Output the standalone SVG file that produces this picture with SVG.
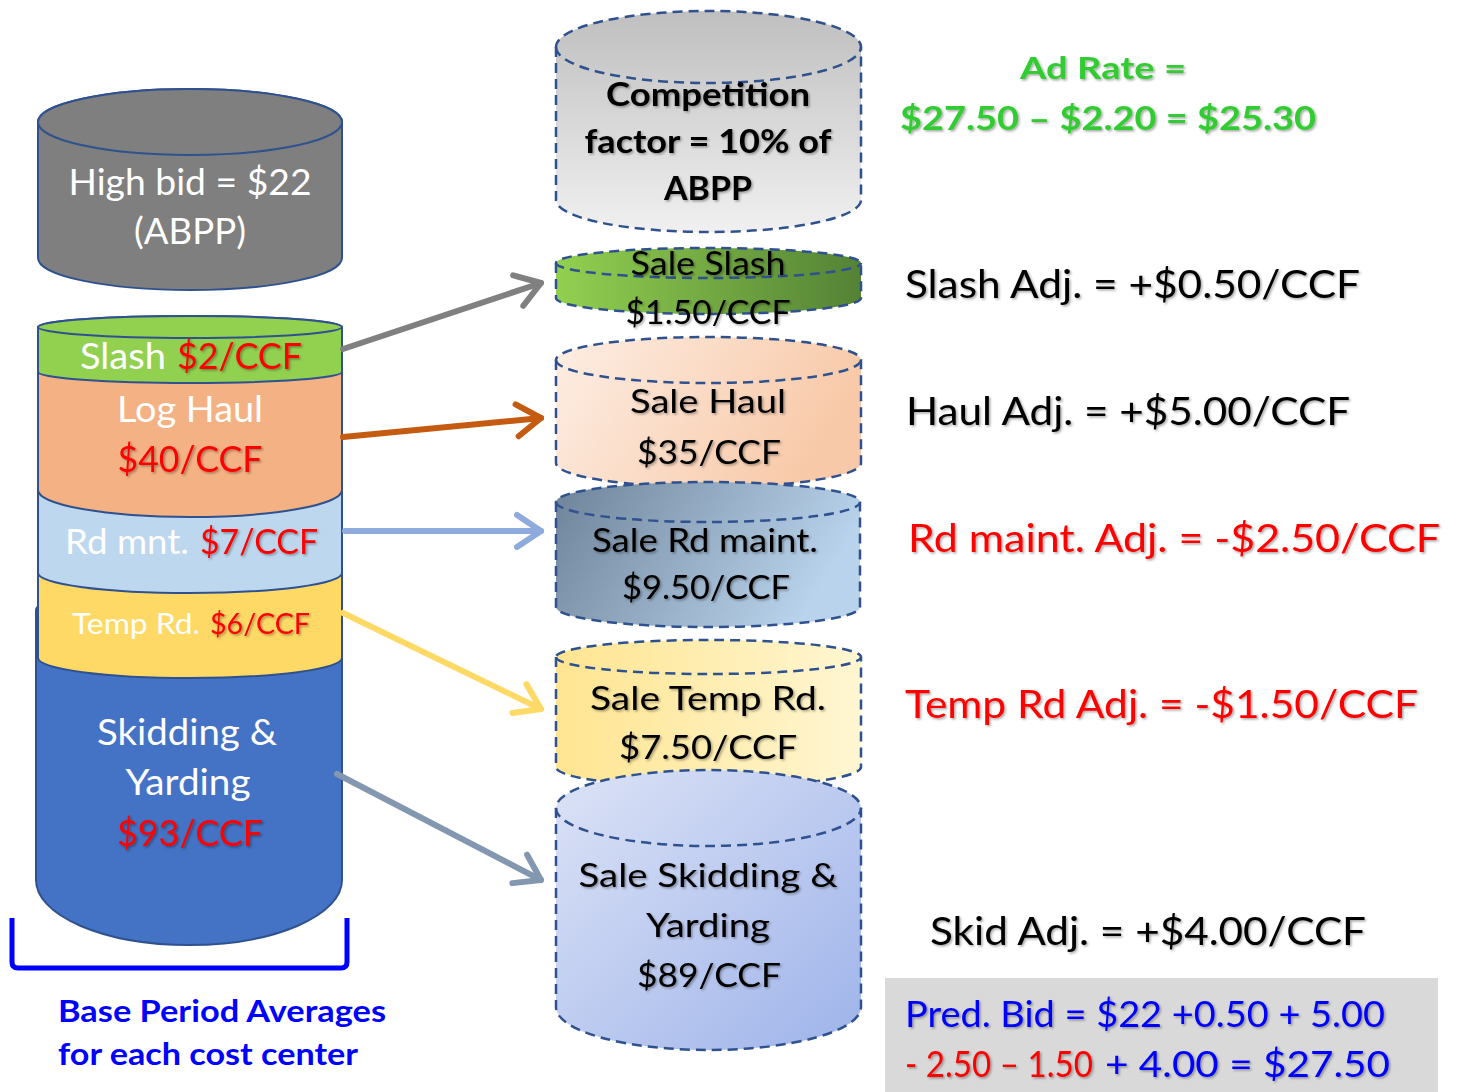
<svg xmlns="http://www.w3.org/2000/svg" width="1458" height="1092" viewBox="0 0 1458 1092">
<defs>
<style>
text{font-family:Lato,"Open Sans","Liberation Sans",sans-serif}
.l{stroke:#2f528f;stroke-width:2}
.m{stroke:#2f528f;stroke-width:2.5;stroke-dasharray:10 6;fill:none}
.w{fill:#fff}
.r{fill:#ff0000}
.k{fill:#000}
.sh{filter:url(#ts)}
.b{font-weight:bold}
.arr{fill:none;stroke-width:6;stroke-linecap:round}
</style>
<filter id="ts" x="-10%" y="-20%" width="120%" height="150%"><feDropShadow dx="1.5" dy="1.5" stdDeviation="1" flood-color="#000" flood-opacity="0.35"/></filter>
<linearGradient id="gComp" x1="0" y1="0" x2="0" y2="1"><stop offset="0" stop-color="#bfbfbf"/><stop offset="1" stop-color="#f0f0f0"/></linearGradient>
<linearGradient id="gSlash" x1="0" y1="0" x2="1" y2="0"><stop offset="0" stop-color="#92d050"/><stop offset="1" stop-color="#548235"/></linearGradient>
<linearGradient id="gHaul" x1="0" y1="0" x2="1" y2="0.3"><stop offset="0" stop-color="#fdeee4"/><stop offset="1" stop-color="#f8c9a8"/></linearGradient>
<linearGradient id="gRd" x1="0" y1="0" x2="1" y2="0.3"><stop offset="0" stop-color="#6e8399"/><stop offset="1" stop-color="#b9d3ec"/></linearGradient>
<linearGradient id="gTemp" x1="0" y1="0" x2="1" y2="0"><stop offset="0" stop-color="#ffe591"/><stop offset="1" stop-color="#fff6d2"/></linearGradient>
<linearGradient id="gSkid" x1="0" y1="0" x2="1" y2="1"><stop offset="0" stop-color="#dce3f6"/><stop offset="1" stop-color="#9eb3ea"/></linearGradient>
<marker id="mGray" markerUnits="userSpaceOnUse" markerWidth="60" markerHeight="60" refX="0" refY="0" orient="auto" overflow="visible"><path d="M-24,-16 L0,0 L-24,16" fill="none" stroke="#808080" stroke-width="6" stroke-linecap="round" stroke-linejoin="round"/></marker>
<marker id="mOrange" markerUnits="userSpaceOnUse" markerWidth="60" markerHeight="60" refX="0" refY="0" orient="auto" overflow="visible"><path d="M-24,-16 L0,0 L-24,16" fill="none" stroke="#c55a11" stroke-width="6" stroke-linecap="round" stroke-linejoin="round"/></marker>
<marker id="mBlue" markerUnits="userSpaceOnUse" markerWidth="60" markerHeight="60" refX="0" refY="0" orient="auto" overflow="visible"><path d="M-24,-16 L0,0 L-24,16" fill="none" stroke="#8faadc" stroke-width="6" stroke-linecap="round" stroke-linejoin="round"/></marker>
<marker id="mYellow" markerUnits="userSpaceOnUse" markerWidth="60" markerHeight="60" refX="0" refY="0" orient="auto" overflow="visible"><path d="M-24,-16 L0,0 L-24,16" fill="none" stroke="#ffd966" stroke-width="6" stroke-linecap="round" stroke-linejoin="round"/></marker>
<marker id="mSlate" markerUnits="userSpaceOnUse" markerWidth="60" markerHeight="60" refX="0" refY="0" orient="auto" overflow="visible"><path d="M-24,-16 L0,0 L-24,16" fill="none" stroke="#8497b0" stroke-width="6" stroke-linecap="round" stroke-linejoin="round"/></marker>
</defs>
<rect width="1458" height="1092" fill="#fff"/>

<!-- Left stack (drawn bottom-up) -->
<g id="skidding">
<path class="l" fill="#4472c4" d="M36,610 L36,880 A153,65 0 0 0 342,880 L342,610 A153,20 0 0 0 36,610 Z"/>
<text class="w" x="187" y="745" font-size="37" text-anchor="middle" textLength="180" lengthAdjust="spacingAndGlyphs">Skidding &amp;</text>
<text class="w" x="188" y="795" font-size="37" text-anchor="middle" textLength="125" lengthAdjust="spacingAndGlyphs">Yarding</text>
<text class="r sh" x="190" y="846" font-size="37" text-anchor="middle" textLength="146" lengthAdjust="spacingAndGlyphs">$93/CCF</text>
</g>
<g id="temp-rd">
<path class="l" fill="#ffd966" d="M38,565 L38,658 A152,20 0 0 0 342,658 L342,565 A152,20 0 0 0 38,565 Z"/>
<text x="72" y="634" font-size="28"><tspan class="w" x="72" textLength="128" lengthAdjust="spacingAndGlyphs">Temp Rd.</tspan><tspan class="r sh" x="210" textLength="100" lengthAdjust="spacingAndGlyphs">$6/CCF</tspan></text>
</g>
<g id="rd-mnt">
<path class="l" fill="#bdd7ee" d="M38,480 L38,573 A152,20 0 0 0 342,573 L342,480 A152,20 0 0 0 38,480 Z"/>
<text x="65" y="554" font-size="35"><tspan class="w" x="65" textLength="124" lengthAdjust="spacingAndGlyphs">Rd mnt.</tspan><tspan class="r sh" x="200" textLength="118" lengthAdjust="spacingAndGlyphs">$7/CCF</tspan></text>
</g>
<g id="log-haul">
<path class="l" fill="#f4b183" d="M38,372 L38,490 A152,27 0 0 0 342,490 L342,372 A152,11 0 0 0 38,372 Z"/>
<text class="w" x="190" y="422" font-size="36" text-anchor="middle" textLength="146" lengthAdjust="spacingAndGlyphs">Log Haul</text>
<text class="r sh" x="190" y="472" font-size="37" text-anchor="middle" textLength="145" lengthAdjust="spacingAndGlyphs">$40/CCF</text>
</g>
<g id="slash">
<path class="l" fill="#92d050" d="M38,327 L38,372 A152,11 0 0 0 342,372 L342,327 A152,11 0 0 0 38,327 Z"/>
<ellipse class="l" cx="190" cy="327" rx="152" ry="11" fill="#92d050"/>
<text x="80" y="369" font-size="36"><tspan class="w" x="80" textLength="86" lengthAdjust="spacingAndGlyphs">Slash</tspan><tspan class="r sh" x="177" textLength="125" lengthAdjust="spacingAndGlyphs">$2/CCF</tspan></text>
</g>
<g id="high-bid">
<path class="l" fill="#7f7f7f" d="M38,122 L38,258 A152,32 0 0 0 342,258 L342,122 A152,33 0 0 0 38,122 Z"/>
<ellipse class="l" cx="190" cy="122" rx="152" ry="33" fill="#7f7f7f"/>
<text class="w" x="190" y="195" font-size="37" text-anchor="middle" textLength="243" lengthAdjust="spacingAndGlyphs">High bid = $22</text>
<text class="w" x="190" y="244" font-size="37" text-anchor="middle" textLength="112" lengthAdjust="spacingAndGlyphs">(ABPP)</text>
</g>
<g id="bracket">
<path d="M12,918 L12,962 Q12,968 18,968 L341,968 Q347,968 347,962 L347,918" fill="none" stroke="#0000ff" stroke-width="5"/>
<text class="b" x="58" y="1022" font-size="31" fill="#0000ff" textLength="328" lengthAdjust="spacingAndGlyphs">Base Period Averages</text>
<text class="b" x="58" y="1065" font-size="31" fill="#0000ff" textLength="300" lengthAdjust="spacingAndGlyphs">for each cost center</text>
</g>

<!-- Middle stack -->
<g id="competition">
<path d="M556,47 L556,200 A152.5,32 0 0 0 861,200 L861,47 A152.5,36 0 0 0 556,47 Z" fill="url(#gComp)"/>
<path class="m" d="M556,47 L556,200 A152.5,32 0 0 0 861,200 L861,47 A152.5,36 0 0 0 556,47 Z"/>
<path class="m" d="M556,47 A152.5,36 0 0 0 861,47"/>
<text class="k b sh" x="708" y="106" font-size="32" text-anchor="middle" textLength="204" lengthAdjust="spacingAndGlyphs">Competition</text>
<text class="k b sh" x="708" y="153" font-size="32" text-anchor="middle" textLength="247" lengthAdjust="spacingAndGlyphs">factor = 10% of</text>
<text class="k b sh" x="708" y="200" font-size="32" text-anchor="middle" textLength="88" lengthAdjust="spacingAndGlyphs">ABPP</text>
</g>
<g id="sale-slash">
<path d="M556,263 L556,298 A152.5,16 0 0 0 861,298 L861,263 A152.5,15 0 0 0 556,263 Z" fill="url(#gSlash)"/>
<path class="m" d="M556,263 L556,298 A152.5,16 0 0 0 861,298 L861,263 A152.5,15 0 0 0 556,263 Z"/>
<path class="m" d="M556,263 A152.5,15 0 0 0 861,263"/>
<text class="k sh" x="708" y="275" font-size="33" text-anchor="middle" textLength="155" lengthAdjust="spacingAndGlyphs">Sale Slash</text>
<text class="k sh" x="708" y="324" font-size="33" text-anchor="middle" textLength="165" lengthAdjust="spacingAndGlyphs">$1.50/CCF</text>
</g>
<g id="sale-haul">
<path d="M556,360 L556,463 A152.5,24 0 0 0 861,463 L861,360 A152.5,23 0 0 0 556,360 Z" fill="url(#gHaul)"/>
<path class="m" d="M556,360 L556,463 A152.5,24 0 0 0 861,463 L861,360 A152.5,23 0 0 0 556,360 Z"/>
<path class="m" d="M556,360 A152.5,23 0 0 0 861,360"/>
<text class="k sh" x="708" y="413" font-size="33" text-anchor="middle" textLength="156" lengthAdjust="spacingAndGlyphs">Sale Haul</text>
<text class="k sh" x="709" y="464" font-size="33" text-anchor="middle" textLength="144" lengthAdjust="spacingAndGlyphs">$35/CCF</text>
</g>
<g id="sale-rd-maint">
<path d="M556,502 L556,607 A152,20 0 0 0 860,607 L860,502 A152,20 0 0 0 556,502 Z" fill="url(#gRd)"/>
<path class="m" d="M556,502 L556,607 A152,20 0 0 0 860,607 L860,502 A152,20 0 0 0 556,502 Z"/>
<path class="m" d="M556,502 A152,20 0 0 0 860,502"/>
<text class="k sh" x="705" y="552" font-size="33" text-anchor="middle" textLength="226" lengthAdjust="spacingAndGlyphs">Sale Rd maint.</text>
<text class="k sh" x="706" y="599" font-size="33" text-anchor="middle" textLength="168" lengthAdjust="spacingAndGlyphs">$9.50/CCF</text>
</g>
<g id="sale-temp-rd">
<path d="M556,657 L556,767 A152.5,20 0 0 0 861,767 L861,657 A152.5,17 0 0 0 556,657 Z" fill="url(#gTemp)"/>
<path class="m" d="M556,657 L556,767 A152.5,20 0 0 0 861,767 L861,657 A152.5,17 0 0 0 556,657 Z"/>
<path class="m" d="M556,657 A152.5,17 0 0 0 861,657"/>
<text class="k sh" x="708" y="710" font-size="33" text-anchor="middle" textLength="236" lengthAdjust="spacingAndGlyphs">Sale Temp Rd.</text>
<text class="k sh" x="708" y="759" font-size="33" text-anchor="middle" textLength="178" lengthAdjust="spacingAndGlyphs">$7.50/CCF</text>
</g>
<g id="sale-skidding">
<path d="M556,808 L556,1007 A152.5,43 0 0 0 861,1007 L861,808 A152.5,38 0 0 0 556,808 Z" fill="url(#gSkid)"/>
<path class="m" d="M556,808 L556,1007 A152.5,43 0 0 0 861,1007 L861,808 A152.5,38 0 0 0 556,808 Z"/>
<path class="m" d="M556,808 A152.5,38 0 0 0 861,808"/>
<text class="k sh" x="708" y="887" font-size="33" text-anchor="middle" textLength="259" lengthAdjust="spacingAndGlyphs">Sale Skidding &amp;</text>
<text class="k sh" x="708" y="937" font-size="33" text-anchor="middle" textLength="124" lengthAdjust="spacingAndGlyphs">Yarding</text>
<text class="k sh" x="709" y="987" font-size="33" text-anchor="middle" textLength="144" lengthAdjust="spacingAndGlyphs">$89/CCF</text>
</g>

<!-- Connectors -->
<g id="connectors">
<line class="arr" x1="343" y1="349" x2="541" y2="283" stroke="#808080" marker-end="url(#mGray)"/>
<line class="arr" x1="343" y1="437" x2="541" y2="418" stroke="#c55a11" marker-end="url(#mOrange)"/>
<line class="arr" x1="345" y1="531" x2="541" y2="531" stroke="#8faadc" marker-end="url(#mBlue)"/>
<line class="arr" x1="343" y1="613" x2="541" y2="709" stroke="#ffd966" marker-end="url(#mYellow)"/>
<line class="arr" x1="337" y1="774" x2="541" y2="880" stroke="#8497b0" marker-end="url(#mSlate)"/>
</g>

<!-- Right side texts -->
<g id="ad-rate">
<text class="b sh" x="1103" y="79" font-size="31" fill="#33cc33" text-anchor="middle" textLength="166" lengthAdjust="spacingAndGlyphs">Ad Rate =</text>
<text class="b sh" x="900" y="130" font-size="33" fill="#33cc33" textLength="416" lengthAdjust="spacingAndGlyphs">$27.50 – $2.20 = $25.30</text>
</g>
<g id="slash-adj"><text class="k sh" x="905" y="298" font-size="39" textLength="455" lengthAdjust="spacingAndGlyphs">Slash Adj. = +$0.50/CCF</text></g>
<g id="haul-adj"><text class="k sh" x="906" y="425" font-size="39" textLength="444" lengthAdjust="spacingAndGlyphs">Haul Adj. = +$5.00/CCF</text></g>
<g id="rd-maint-adj"><text class="r sh" x="908" y="552" font-size="39" textLength="532" lengthAdjust="spacingAndGlyphs">Rd maint. Adj. = -$2.50/CCF</text></g>
<g id="temp-rd-adj"><text class="r sh" x="905" y="718" font-size="39" textLength="513" lengthAdjust="spacingAndGlyphs">Temp Rd Adj. = -$1.50/CCF</text></g>
<g id="skid-adj"><text class="k sh" x="930" y="945" font-size="39" textLength="436" lengthAdjust="spacingAndGlyphs">Skid Adj. = +$4.00/CCF</text></g>
<g id="pred-bid">
<rect x="885" y="978" width="553" height="114" fill="#d9d9d9"/>
<text class="sh" x="905" y="1027" font-size="37" fill="#0000ff" textLength="480" lengthAdjust="spacingAndGlyphs">Pred. Bid = $22 +0.50 + 5.00</text>
<text x="905" y="1077" font-size="37"><tspan class="r sh" x="905" textLength="188" lengthAdjust="spacingAndGlyphs">- 2.50 – 1.50</tspan><tspan class="sh" x="1105" fill="#0000ff" textLength="285" lengthAdjust="spacingAndGlyphs">+ 4.00 = $27.50</tspan></text>
</g>
</svg>
